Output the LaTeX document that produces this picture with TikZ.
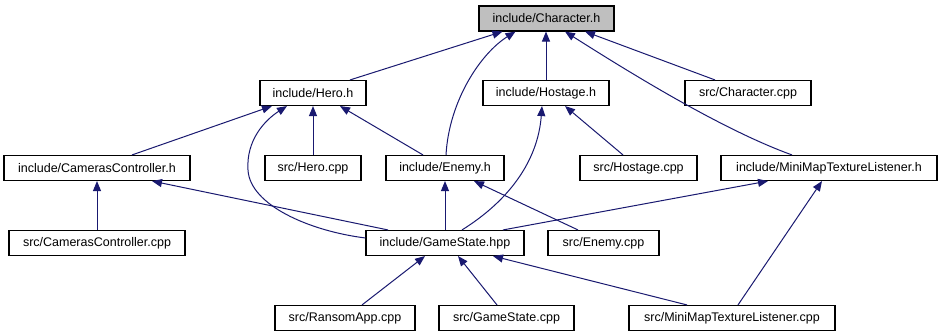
\documentclass[tikz,border=0pt]{standalone}
\usepackage{fontspec}
\setmainfont{Liberation Sans}
\usetikzlibrary{arrows.meta,calc}
\definecolor{edgeblue}{HTML}{191970}
\definecolor{rootgray}{HTML}{BFBFBF}
\begin{document}
\begin{tikzpicture}[x=1pt,y=-1pt,
  file/.style={draw=black,line width=1.1pt,fill=white,inner sep=0pt,
    minimum height=25pt,font=\fontsize{12.5}{14}\selectfont},
  rootfile/.style={file,fill=rootgray},
  dep/.style={draw=edgeblue,line width=1pt,-{Triangle[length=10pt,width=8pt]}}]
\useasboundingbox[fill=white] (0,0) rectangle (943,336);

% header files and sources
\node[rootfile,minimum width=135pt] (char)    at (546.5,18.5) {include/Character.h};
\node[file,minimum width=106pt] (hero)        at (313,93)     {include/Hero.h};
\node[file,minimum width=126pt] (hostage)     at (546,93)     {include/Hostage.h};
\node[file,minimum width=126pt] (charcpp)     at (748,93)     {src/Character.cpp};
\node[file,minimum width=186pt] (camh)        at (97,168)     {include/CamerasController.h};
\node[file,minimum width=96pt]  (herocpp)     at (313,168)    {src/Hero.cpp};
\node[file,minimum width=118pt] (enemyh)      at (445,168)    {include/Enemy.h};
\node[file,minimum width=117pt] (hostcpp)     at (638.5,168)  {src/Hostage.cpp};
\node[file,minimum width=216pt] (mmh)         at (829,168)    {include/MiniMapTextureListener.h};
\node[file,minimum width=176pt] (camcpp)      at (97,243)     {src/CamerasController.cpp};
\node[file,minimum width=158pt] (gs)          at (445,243)    {include/GameState.hpp};
\node[file,minimum width=111pt] (enemycpp)    at (603.5,243)  {src/Enemy.cpp};
\node[file,minimum width=140pt] (ransom)      at (345,318)    {src/RansomApp.cpp};
\node[file,minimum width=135pt] (gscpp)       at (506.5,318)  {src/GameState.cpp};
\node[file,minimum width=206pt] (mmcpp)       at (732,318)    {src/MiniMapTextureListener.cpp};

% include dependencies (arrow points at the included file)
\draw[dep] ($(hero.north)+(37,0)$) -- ($(char.south)+(-44,0)$);
\draw[dep] ($(enemyh.north)+(1,0)$) .. controls +(3,-54) and +(-35,22) .. ($(char.south)+(-31,0)$);
\draw[dep] (hostage.north) -- (hostage.north |- char.south);
\draw[dep] ($(mmh.north)+(-37,0)$) .. controls +(-72,-26) and +(60,38) .. ($(char.south)+(18.5,0)$);
\draw[dep] ($(charcpp.north)+(-33,0)$) -- ($(char.south)+(38.5,0)$);

\draw[dep] ($(camh.north)+(35,0)$) -- ($(hero.south)+(-41,0)$);
\draw[dep] ($(gs.west)+(0,-5)$) .. controls +(-56,-7) and +(2,35) ..
  ($(hero.south)+(-65,64)$) .. controls +(-2,-30) and +(-22,14) .. ($(hero.south)+(-26,0)$);
\draw[dep] (herocpp.north) -- (hero.south);
\draw[dep] ($(enemyh.north)+(-22,0)$) -- ($(hero.south)+(27,0)$);

\draw[dep] ($(gs.north)+(17,0)$) .. controls +(48,-30) and +(-4,54) .. ($(hostage.south)+(-4,0)$);
\draw[dep] ($(hostcpp.north)+(-15.5,0)$) -- ($(hostage.south)+(19,0)$);

\draw[dep] ($(gs.north)+(-57,0)$) -- ($(camh.south)+(55,0)$);
\draw[dep] (camcpp.north) -- (camh.south);
\draw[dep] (gs.north) -- (enemyh.south);
\draw[dep] ($(enemycpp.north)+(-25.5,0)$) -- ($(enemyh.south)+(29,0)$);
\draw[dep] ($(gs.north)+(58,0)$) -- ($(mmh.south)+(-61,0)$);
\draw[dep] ($(mmcpp.north)+(6,0)$) -- ($(mmh.south)+(-7,0)$);

\draw[dep] ($(ransom.north)+(17,0)$) -- ($(gs.south)+(-20,0)$);
\draw[dep] ($(gscpp.north)+(-9.5,0)$) -- ($(gs.south)+(13,0)$);
\draw[dep] ($(mmcpp.north)+(-45,0)$) -- ($(gs.south)+(48,0)$);
\end{tikzpicture}
\end{document}
